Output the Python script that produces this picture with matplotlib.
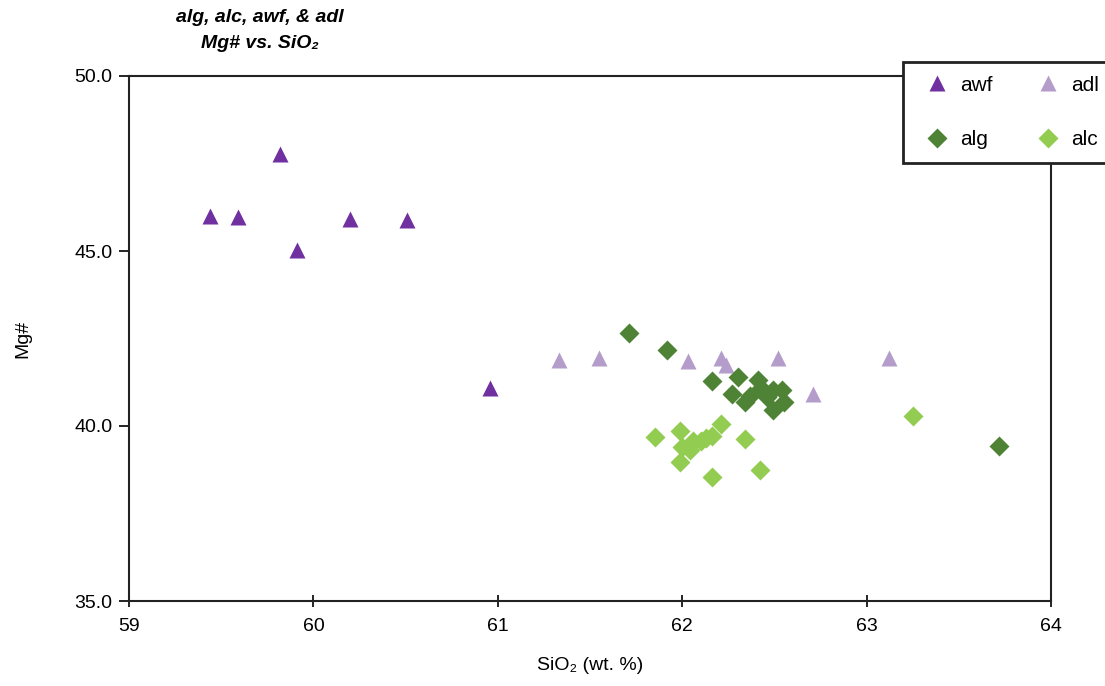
import matplotlib
matplotlib.use("Agg")
import matplotlib.pyplot as plt

plt.rcParams['font.family'] = ['Liberation Sans', 'DejaVu Sans']

# awf samples
awf_sio2 = [59.44, 59.59, 59.82, 59.91, 60.20, 60.51, 60.96]
awf_mg = [46.00, 45.97, 47.77, 45.03, 45.91, 45.89, 41.09]

# adl samples
adl_sio2 = [61.33, 61.55, 62.03, 62.21, 62.24, 62.52, 62.71, 63.12]
adl_mg = [41.89, 41.94, 41.86, 41.94, 41.74, 41.94, 40.91, 41.94]

# alg samples
alg_sio2 = [61.71, 61.92, 62.16, 62.30, 62.27, 62.34, 62.37, 62.41,
            62.43, 62.46, 62.49, 62.54, 62.55, 62.49, 63.72]
alg_mg = [42.66, 42.17, 41.29, 41.40, 40.91, 40.69, 40.86, 41.31,
          41.09, 40.83, 41.03, 41.03, 40.69, 40.46, 39.43]

# alc samples
alc_sio2 = [61.85, 61.99, 62.00, 61.99, 62.04, 62.06, 62.10, 62.13,
            62.16, 62.21, 62.34, 62.16, 62.42, 63.25]
alc_mg = [39.69, 39.86, 39.40, 38.97, 39.31, 39.57, 39.57, 39.66,
          39.71, 40.06, 39.63, 38.54, 38.74, 40.29]

x_ticks = [59, 60, 61, 62, 63, 64]
y_ticks = [35.0, 40.0, 45.0, 50.0]

fig = plt.figure(figsize=(11.05, 6.86), dpi=100)
ax = fig.add_axes([129 / 1105, 1 - 601 / 686, (1051 - 129) / 1105, (601 - 76) / 686])

h_awf, = ax.plot(awf_sio2, awf_mg, '^', color='#7030A0', ms=11, mec='none', label='awf')
h_adl, = ax.plot(adl_sio2, adl_mg, '^', color='#B49CCB', ms=11, mec='none', label='adl')
h_alg, = ax.plot(alg_sio2, alg_mg, 'D', color='#4E8234', ms=10, mec='none', label='alg')
h_alc, = ax.plot(alc_sio2, alc_mg, 'D', color='#92CC50', ms=10, mec='none', label='alc')

ax.set_xlim(59, 64)
ax.set_ylim(35, 50)
ax.set_xticks(x_ticks)
ax.set_xticklabels([str(t) for t in x_ticks])
ax.set_yticks(y_ticks)
ax.set_yticklabels([f'{t:.1f}' for t in y_ticks])
ax.tick_params(axis='x', direction='inout', length=8, width=1.2, labelsize=14, pad=8)
ax.tick_params(axis='y', direction='out', length=7, width=1.2, labelsize=14, pad=5)
for s in ax.spines.values():
    s.set_linewidth(1.5)
    s.set_color('#222222')

ax.set_xlabel('SiO₂ (wt. %)', fontsize=14, labelpad=16)
ax.set_ylabel('Mg#', fontsize=14, labelpad=31)

fig.text(260 / 1105, 1 - 18 / 686, 'alg, alc, awf, & adl', ha='center', va='center',
         fontsize=14, fontweight='bold', fontstyle='italic')
fig.text(260 / 1105, 1 - 43 / 686, 'Mg# vs. SiO₂', ha='center', va='center',
         fontsize=14, fontweight='bold', fontstyle='italic')

leg = ax.legend(handles=[h_awf, h_alg, h_adl, h_alc], ncol=2,
                loc='upper left', bbox_to_anchor=(903 / 1105, 1 - 62 / 686),
                bbox_transform=fig.transFigure, frameon=True, fancybox=False,
                framealpha=1, labelspacing=1.7, columnspacing=1.65,
                handletextpad=0.1, handlelength=2.0, borderpad=0.65,
                borderaxespad=0, prop={'size': 15})
leg.get_frame().set_edgecolor('#222222')
leg.get_frame().set_linewidth(2)
leg.set_zorder(5)

fig.savefig('out.png', dpi=100)
